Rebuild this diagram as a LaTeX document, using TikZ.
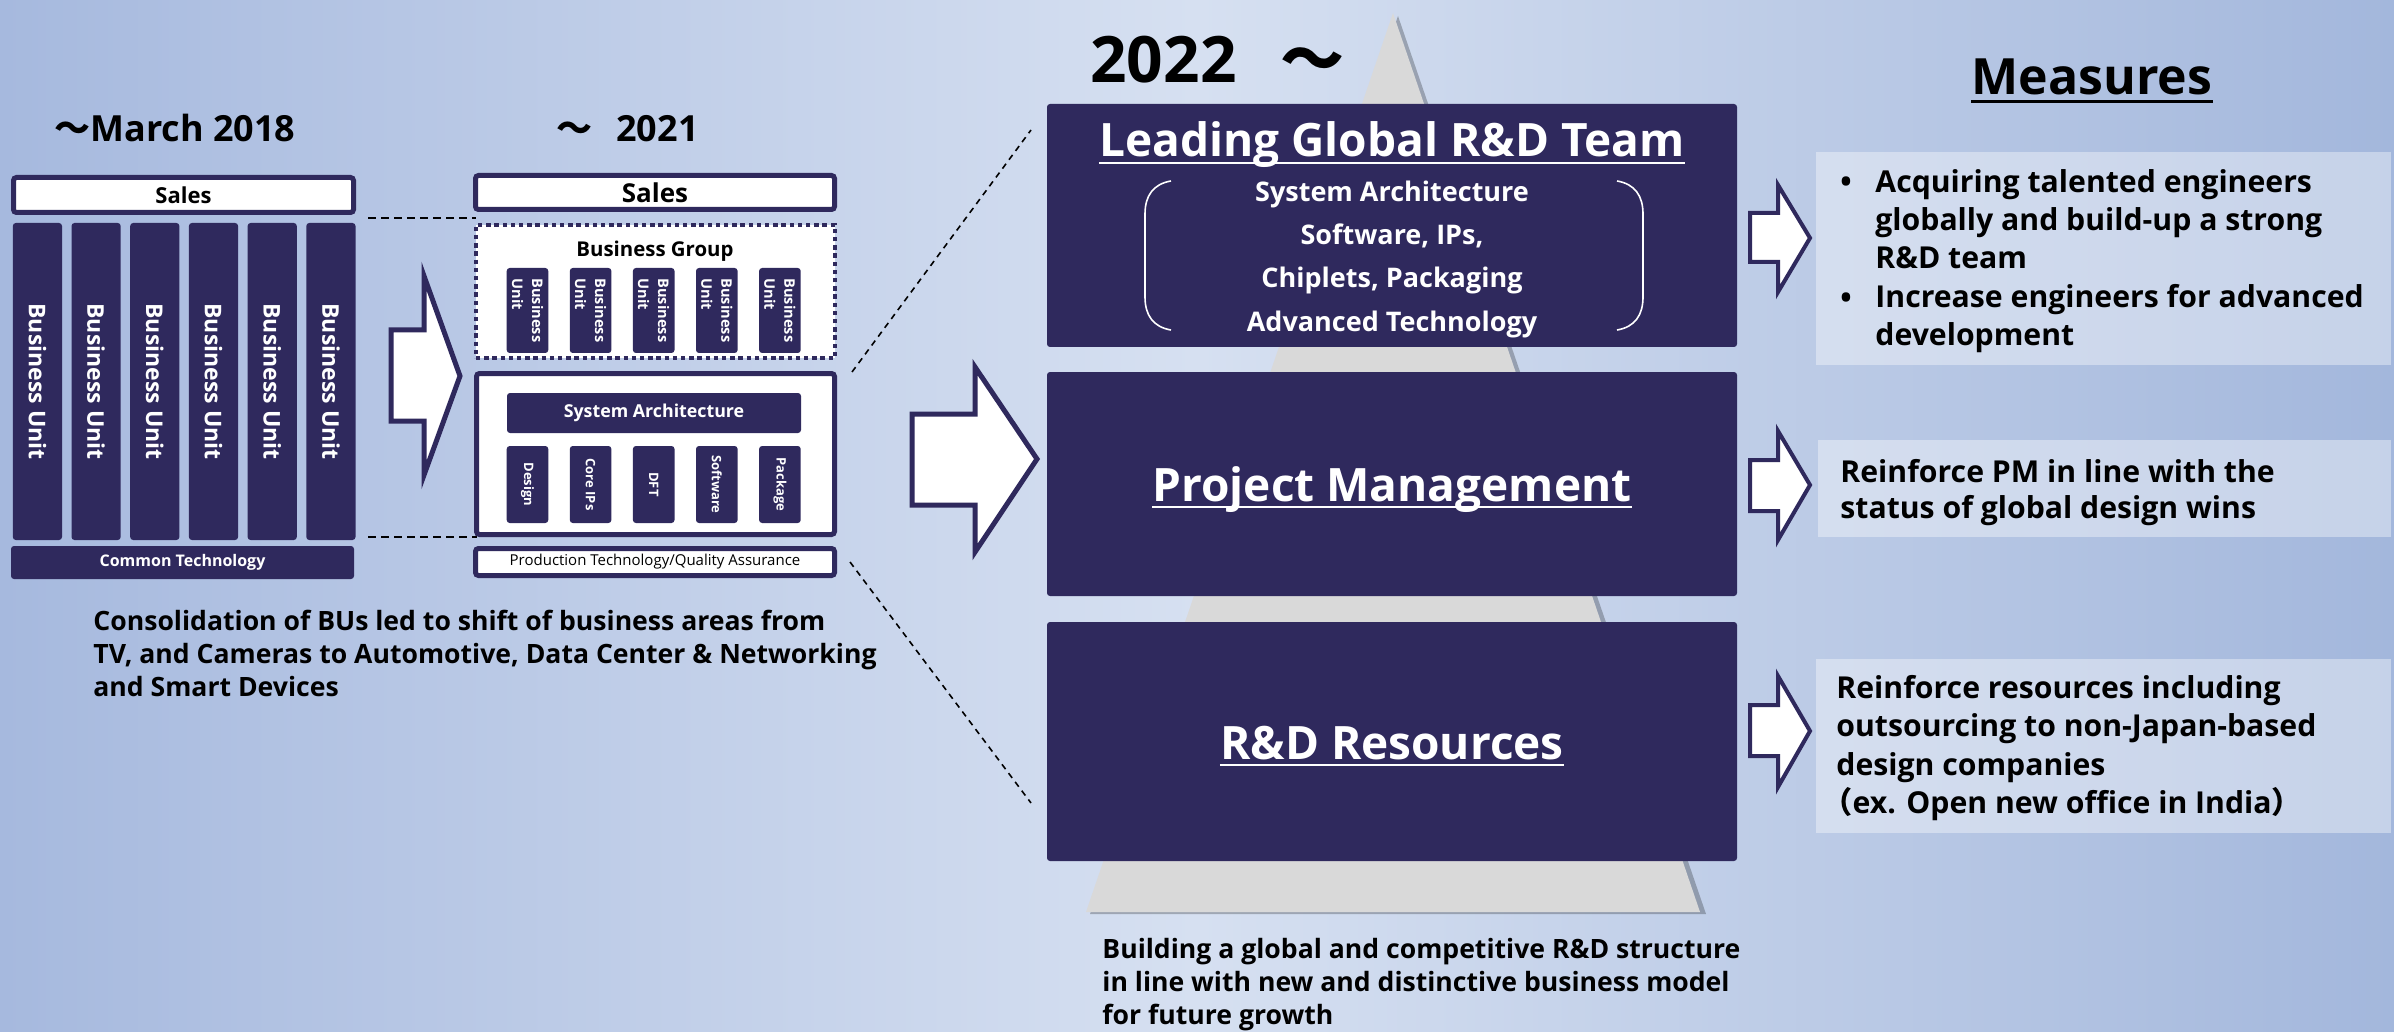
\documentclass[tikz,border=0pt]{standalone}
\usepackage{fontspec}
\setmainfont{Open Sans}
\newfontfamily\cjkfont{Noto Sans CJK JP}
\definecolor{navy}{RGB}{47,41,93}
\definecolor{pyramid}{RGB}{217,217,217}
\definecolor{bgleft}{RGB}{166,185,222}
\definecolor{bgmid}{RGB}{214,224,241}
\definecolor{bgright}{RGB}{163,183,220}
\tikzset{
  navybox/.style={fill=navy, rounded corners=1.5pt, inner sep=0pt, outer sep=0pt},
  framebox/.style={fill=white, draw=navy, line width=2.5pt, rounded corners=1.5pt, inner sep=0pt, outer sep=0pt},
  dotbox/.style={fill=white, draw=navy, line width=2.4pt, dash pattern=on 2.2pt off 1.9pt, inner sep=0pt, outer sep=0pt},
  blockarrow/.style={fill=white, draw=navy, line width=2.5pt, miter limit=20},
  smallarrow/.style={fill=white, draw=navy, line width=2pt, miter limit=20},
  guide/.style={black, line width=0.8pt, dash pattern=on 4pt off 2.5pt},
  diag/.style={black, line width=0.8pt, dash pattern=on 3pt off 2.5pt},
  measurebox/.style={fill=white, fill opacity=0.38, inner sep=0pt, outer sep=0pt},
  heading/.style={font=\fontsize{18}{20}\selectfont\bfseries, inner sep=0pt, anchor=base west},
  bodytext/.style={font=\fontsize{13.3}{16}\selectfont\bfseries, inner sep=0pt, anchor=base west},
  measuretext/.style={font=\fontsize{15.1}{18}\selectfont\bfseries, inner sep=0pt, anchor=base west},
  leadtext/.style={font=\fontsize{13.5}{16}\selectfont\bfseries, text=white, inner sep=0pt, anchor=base},
  boxtitle/.style={font=\fontsize{23}{26}\selectfont\bfseries, text=white, inner sep=0pt, anchor=base},
}
\begin{document}
\begin{tikzpicture}[x=0.5pt, y=-0.5pt]
\useasboundingbox (0,0) rectangle (2394,1032);
\shade[left color=bgleft, right color=bgright, middle color=bgmid] (0,0) rectangle (2394,1032);

\node[heading] (t2018) at (54,142) {{\cjkfont ～}March 2018};
\node[framebox, minimum width=170pt, minimum height=17.5pt, font=\fontsize{11}{12}\selectfont\bfseries] (sales1) at (183.5,195) {Sales};
\foreach \i in {0,...,5}
  \node[navybox, rotate=-90, minimum width=158.5pt, minimum height=24.6pt, text=white, font=\fontsize{11.5}{13}\selectfont\bfseries] (bu\i) at (37.4+58.7*\i,381.5) {Business Unit};
\node[navybox, minimum width=171.5pt, minimum height=16.5pt, text=white, font=\fontsize{8}{9}\selectfont\bfseries] (common) at (182.5,562.5) {Common Technology};
\foreach \txt [count=\i from 0] in {{Consolidation of BUs led to shift of business areas from},{TV, and Cameras to Automotive, Data Center \& Networking},{and Smart Devices}}
  \node[bodytext] (cons\i) at (93,630+33*\i) {\txt};

\draw[blockarrow] (391,330) -- (424,330) -- (424,276) -- (460,376) -- (424,475) -- (424,421) -- (391,421) -- cycle;

\node[heading] (t2021) at (556,142) {{\cjkfont ～}\hspace{12pt}2021};
\node[framebox, minimum width=179.5pt, minimum height=17pt, font=\fontsize{13}{14}\selectfont\bfseries] (sales2) at (655,192.5) {Sales};
\node[dotbox, minimum width=179.5pt, minimum height=66.5pt] (bgroup) at (655.5,291.5) {};
\node[font=\fontsize{10.2}{12}\selectfont\bfseries, inner sep=0pt, anchor=base] (bglabel) at (655,257) {Business Group};
\foreach \i in {0,...,4}
  \node[navybox, rotate=-90, minimum width=42.5pt, minimum height=20.8pt, align=left, text=white, font=\fontsize{7.3}{10}\selectfont\bfseries] (sbu\i) at (527.5+63.1*\i,310.5) {Business\\Unit};
\node[framebox, minimum width=179pt, minimum height=80.5pt] (sysbox) at (655.5,454) {};
\node[navybox, minimum width=147pt, minimum height=20pt, text=white, font=\fontsize{8.9}{10}\selectfont\bfseries] (sysarch) at (654,413) {System Architecture};
\foreach \txt [count=\i from 0] in {Design, Core IPs, DFT, Software, Package}
  \node[navybox, rotate=-90, minimum width=38.5pt, minimum height=20.8pt, text=white, font=\fontsize{6.5}{7}\selectfont\bfseries] (fn\i) at (527.5+63.1*\i,484.5) {\txt};
\node[framebox, minimum width=179.5pt, minimum height=13.5pt, font=\fontsize{7.5}{8}\selectfont] (prod) at (655,562) {Production Technology/Quality Assurance};

\coordinate (g1) at (368,218);
\coordinate (g2) at (368,537);
\draw[guide] (g1) -- (g1 -| bgroup.west);
\draw[guide] (g2) -- (g2 -| sysbox.west);

\coordinate (d1a) at (852,372);
\coordinate (d1b) at (1031,130);
\coordinate (d2a) at (850,562);
\coordinate (d2b) at (1031,803);
\draw[diag] (d1a) -- (d1b);
\draw[diag] (d2a) -- (d2b);

\draw[blockarrow] (912,414) -- (975,414) -- (975,367) -- (1037,459) -- (975,552) -- (975,505) -- (912,505) -- cycle;

\fill[black, opacity=0.25] (1398,16) -- (1706,914) -- (1090,914) -- cycle;
\fill[pyramid] (1393,13) -- (1700,912) -- (1086,912) -- cycle;

\node[font=\fontsize{32}{34}\selectfont\bfseries, inner sep=0pt, anchor=base west] (t2022) at (1090,83) {2022\hspace{22pt}{\cjkfont ～}};

\node[navybox, minimum width=345pt, minimum height=121.5pt] (lead) at (1392,225.5) {};
\node[boxtitle] (leadtitle) at (1392,157) {Leading Global R\&D Team};
\draw[white, line width=1.2pt] ([yshift=-3pt]leadtitle.base west) -- ([yshift=-3pt]leadtitle.base east);
\draw[white, line width=0.8pt] (1171,181) .. controls (1153,184) and (1145,196) .. (1145,214) -- (1145,297) .. controls (1145,315) and (1153,327) .. (1171,330);
\draw[white, line width=0.8pt] (1617,181) .. controls (1635,184) and (1643,196) .. (1643,214) -- (1643,297) .. controls (1643,315) and (1635,327) .. (1617,330);
\foreach \txt [count=\i from 0] in {System Architecture, {Software, IPs,}, {Chiplets, Packaging}, Advanced Technology}
  \node[leadtext] (leadl\i) at (1392,202+43*\i) {\txt};

\node[navybox, minimum width=345pt, minimum height=112pt] (pm) at (1392,484) {};
\node[boxtitle] (pmtitle) at (1392,501) {Project Management};
\draw[white, line width=1.2pt] ([yshift=-3pt]pmtitle.base west) -- ([yshift=-3pt]pmtitle.base east);

\node[navybox, minimum width=345pt, minimum height=119.5pt] (rd) at (1392,741.5) {};
\node[boxtitle] (rdtitle) at (1392,759) {R\&D Resources};
\draw[white, line width=1.2pt] ([yshift=-3pt]rdtitle.base west) -- ([yshift=-3pt]rdtitle.base east);

\foreach \txt [count=\i from 0] in {{Building a global and competitive R\&D structure},{in line with new and distinctive business model},{for future growth}}
  \node[bodytext] (build\i) at (1102,958+33*\i) {\txt};

\node[font=\fontsize{25}{28}\selectfont\bfseries, inner sep=0pt, anchor=base] (measures) at (2092,95) {Measures};
\draw[black, line width=1.5pt] ([yshift=-3.5pt]measures.base west) -- ([yshift=-3.5pt]measures.base east);

\node[measurebox, minimum width=287.5pt, minimum height=106.5pt] (m1) at (2103.5,258.5) {};
\node[measurebox, minimum width=286.5pt, minimum height=48.5pt] (m2) at (2104.5,488.5) {};
\node[measurebox, minimum width=287.5pt, minimum height=87pt] (m3) at (2103.5,746) {};

\draw[smallarrow] (1750,213) -- (1778,213) -- (1778,185) -- (1810,238) -- (1778,292) -- (1778,262) -- (1750,262) -- cycle;
\draw[smallarrow] (1750,460) -- (1778,460) -- (1778,431) -- (1810,485) -- (1778,540) -- (1778,511) -- (1750,511) -- cycle;
\draw[smallarrow] (1750,705) -- (1778,705) -- (1778,676) -- (1810,731) -- (1778,787) -- (1778,756) -- (1750,756) -- cycle;

\node[measuretext] (dot1) at (1840,193) {•};
\node[measuretext] (dot2) at (1840,308) {•};
\foreach \txt [count=\i from 0] in {Acquiring talented engineers, globally and build-up a strong, R\&D team, Increase engineers for advanced, development}
  \node[measuretext] (ma\i) at (1875,193+38*\i) {\txt};
\foreach \txt [count=\i from 0] in {Reinforce PM in line with the, status of global design wins}
  \node[measuretext] (mb\i) at (1840,482+36.5*\i) {\txt};
\foreach \txt [count=\i from 0] in {Reinforce resources including, outsourcing to non-Japan-based, design companies}
  \node[measuretext] (mc\i) at (1836,698+38.5*\i) {\txt};
\node[measuretext] (mc3) at (1822,813.5) {{\cjkfont （}ex. Open new office in India{\cjkfont ）}};
\end{tikzpicture}
\end{document}
